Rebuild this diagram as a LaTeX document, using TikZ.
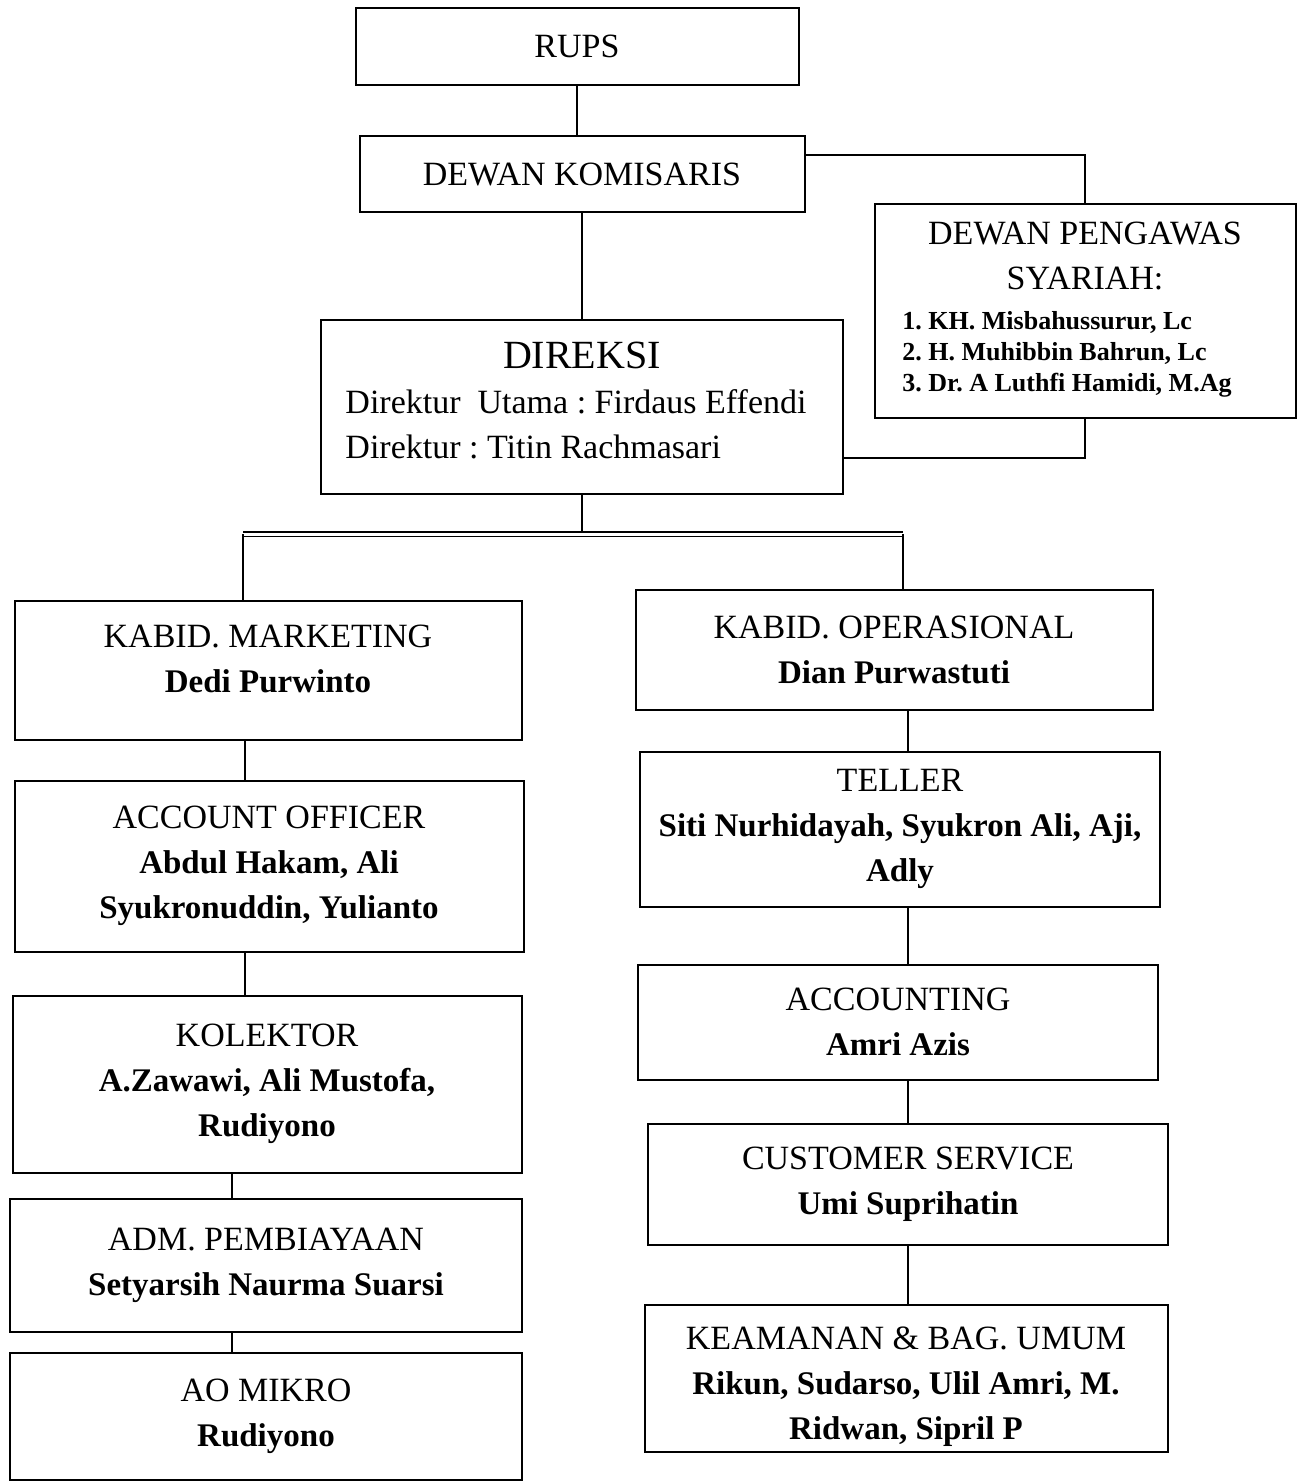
\documentclass[tikz,border=0pt]{standalone}
\usepackage{fontspec}
\setmainfont{Liberation Serif}
\usetikzlibrary{positioning}
\frenchspacing
\newcommand{\namefont}{\fontsize{33}{45}\selectfont\bfseries}
\newcommand{\listfont}{\fontsize{26}{31}\selectfont\bfseries}

\begin{document}
\begin{tikzpicture}[x=1pt,y=-1pt,
  unitbox/.style={draw,line width=2pt,align=center,inner sep=0pt,font=\fontsize{34}{45}\selectfont},
  link/.style={line width=1.6pt}]
  \useasboundingbox (0,0) rectangle (1297,1483);

  % top of the chart
  \node[unitbox,minimum width=443pt,minimum height=77pt] (rups) at (577,46) {RUPS};
  \node[unitbox,minimum width=445pt,minimum height=76pt] (komisaris) at (582,174) {DEWAN KOMISARIS};
  \node[unitbox,minimum width=421pt,minimum height=214pt] (dps) at (1085,311)
    {DEWAN PENGAWAS\\SYARIAH:\\[-5pt]\hspace*{-36pt}{\listfont\begin{tabular}[t]{@{}l@{}}1. KH. Misbahussurur, Lc\\2. H. Muhibbin Bahrun, Lc\\3. Dr. A Luthfi Hamidi, M.Ag\end{tabular}}};
  \node[unitbox,minimum width=522pt,minimum height=174pt] (direksi) at (582,407)
    {{\fontsize{40}{46}\selectfont DIREKSI}\\\hspace*{-12pt}\begin{tabular}[t]{@{}l@{}}Direktur\ \ Utama : Firdaus Effendi\\Direktur : Titin Rachmasari\end{tabular}};

  % marketing side
  \node[unitbox,minimum width=507pt,minimum height=139pt] (marketing) at (268,670)
    {KABID. MARKETING\\{\namefont Dedi Purwinto}\rule[-22pt]{0pt}{1pt}};
  \node[unitbox,minimum width=509pt,minimum height=171pt] (ao) at (269,866)
    {ACCOUNT OFFICER\\{\namefont Abdul Hakam, Ali}\\{\namefont Syukronuddin, Yulianto}};
  \node[unitbox,minimum width=509pt,minimum height=177pt] (kolektor) at (267,1084)
    {KOLEKTOR\\{\namefont A.Zawawi, Ali Mustofa,}\\{\namefont Rudiyono}};
  \node[unitbox,minimum width=512pt,minimum height=133pt] (admpemb) at (266,1265)
    {ADM. PEMBIAYAAN\\{\namefont Setyarsih Naurma Suarsi}};
  \node[unitbox,minimum width=512pt,minimum height=127pt] (aomikro) at (266,1416)
    {AO MIKRO\\{\namefont Rudiyono}};

  % operational side
  \node[unitbox,minimum width=517pt,minimum height=120pt] (operasional) at (894,650)
    {KABID. OPERASIONAL\\{\namefont Dian Purwastuti}};
  \node[unitbox,minimum width=520pt,minimum height=155pt] (teller) at (900,829)
    {TELLER\\{\namefont Siti Nurhidayah, Syukron Ali, Aji,}\\{\namefont Adly}};
  \node[unitbox,minimum width=520pt,minimum height=115pt] (accounting) at (898,1022)
    {ACCOUNTING\\{\namefont Amri Azis}};
  \node[unitbox,minimum width=520pt,minimum height=121pt] (cs) at (908,1184)
    {CUSTOMER SERVICE\\{\namefont Umi Suprihatin}};
  \node[unitbox,minimum width=523pt,minimum height=147pt] (keamanan) at (906,1378)
    {\rule{0pt}{40pt}KEAMANAN \& BAG. UMUM\\{\namefont Rikun, Sudarso, Ulil Amri, M.}\\{\namefont Ridwan, Sipril P}};

  % connectors
  \coordinate (busl) at (243,534);
  \coordinate (busr) at (903,534);
  \coordinate (lcol) at (245,0);
  \coordinate (lcolb) at (232,0);
  \coordinate (rcol) at (908,0);

  \draw[link] (rups.south) -- (rups.south |- komisaris.north);
  \draw[link] (komisaris.south) -- (komisaris.south |- direksi.north);
  \draw[link] ([yshift=19pt]komisaris.east) -| (dps.north);
  \draw[link] (dps.south) |- ([yshift=-51pt]direksi.east);
  \draw[link] (direksi.south) -- (direksi.south |- busl);
  \draw[link,double,double distance=3pt] (busl) -- (busr);
  \draw[link] (busl) -- (busl |- marketing.north);
  \draw[link] (busr) -- (busr |- operasional.north);

  \draw[link] (marketing.south -| lcol) -- (ao.north -| lcol);
  \draw[link] (ao.south -| lcol) -- (kolektor.north -| lcol);
  \draw[link] (kolektor.south -| lcolb) -- (admpemb.north -| lcolb);
  \draw[link] (admpemb.south -| lcolb) -- (aomikro.north -| lcolb);
  \foreach \a/\b in {operasional/teller,teller/accounting,accounting/cs,cs/keamanan}
    \draw[link] (\a.south -| rcol) -- (\b.north -| rcol);
\end{tikzpicture}
\end{document}
